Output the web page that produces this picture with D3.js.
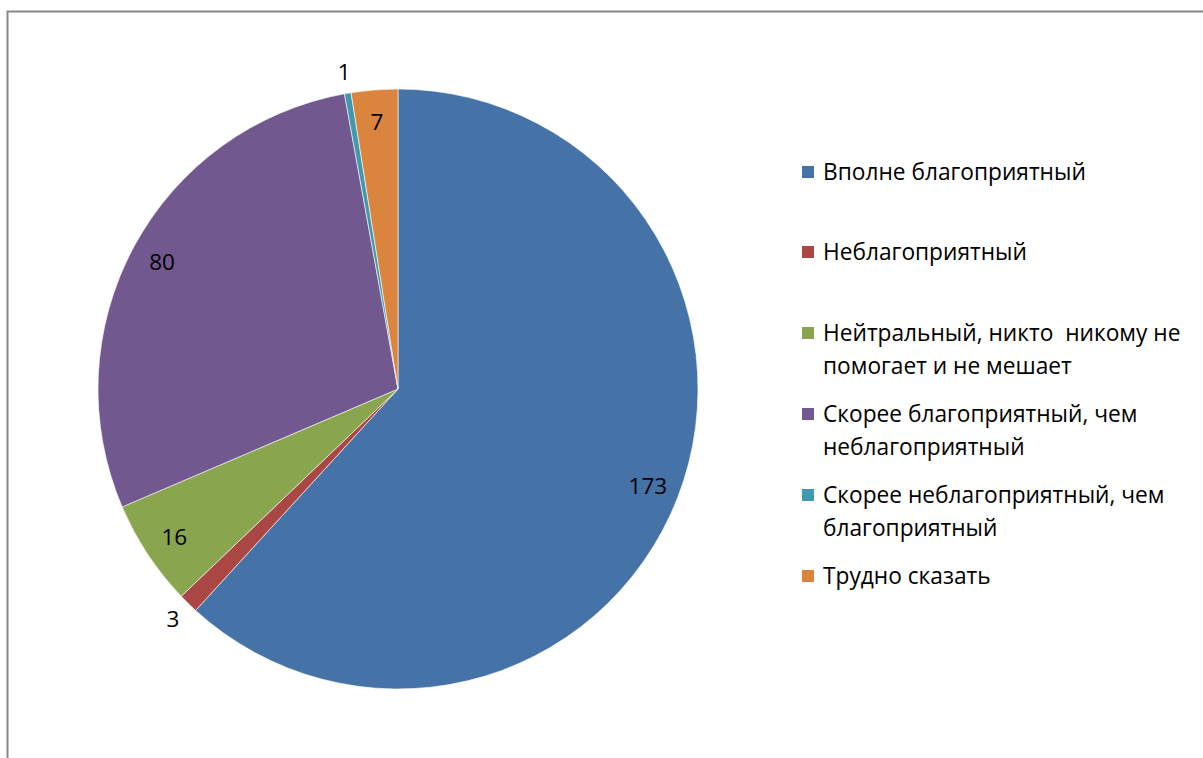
<!DOCTYPE html>
<html>
<head>
<meta charset="utf-8">
<script src="https://cdn.jsdelivr.net/npm/d3@7"></script>
<style>
  body { margin: 0; background: #fff; }
  svg { display: block; }
</style>
</head>
<body>
<div id="chart-container"></div>
<script>
const categories = [
  "Вполне благоприятный",
  "Неблагоприятный",
  "Нейтральный, никто  никому не помогает и не мешает",
  "Скорее благоприятный, чем неблагоприятный",
  "Скорее неблагоприятный, чем благоприятный",
  "Трудно сказать"
];
// legend text as wrapped in the picture
const legendLines = [
  ["Вполне благоприятный"],
  ["Неблагоприятный"],
  ["Нейтральный, никто\u00a0 никому не", "помогает и не мешает"],
  ["Скорее благоприятный, чем", "неблагоприятный"],
  ["Скорее неблагоприятный, чем", "благоприятный"],
  ["Трудно сказать"]
];
const values = [173, 3, 16, 80, 1, 7];
const colors = ["#4572A7", "#AA4643", "#89A54E", "#71588F", "#4198AF", "#DB843D"];

const width = 1203;
const height = 758;
const cx = 398, cy = 389, radius = 300;
const fontFamily = "'Open Sans', sans-serif";

const svg = d3
  .select("#chart-container")
  .append("svg")
  .attr("width", width)
  .attr("height", height);

// chart area frame (runs off the right and bottom edges)
svg.append("rect")
  .attr("x", 7.5)
  .attr("y", 11.5)
  .attr("width", 1300)
  .attr("height", 900)
  .attr("fill", "none")
  .attr("stroke", "#878787")
  .attr("stroke-width", 2);

const color = d3.scaleOrdinal().domain(categories).range(colors);

const pie = d3.pie().sort(null).value((d) => d.value);
const data = categories.map((c, i) => ({ name: c, value: values[i] }));
const arcs = pie(data);

const arc = d3.arc().innerRadius(0).outerRadius(radius);
const inLabel = d3.arc().innerRadius(268).outerRadius(268);
const outLabel = d3.arc().innerRadius(322).outerRadius(322);

const g = svg.append("g").attr("transform", `translate(${cx},${cy})`);

g.selectAll("path")
  .data(arcs)
  .enter()
  .append("path")
  .attr("d", arc)
  .attr("fill", (d) => color(d.data.name))
  .attr("stroke", "#ffffff")
  .attr("stroke-width", 0.6);

g.selectAll("text.val")
  .data(arcs)
  .enter()
  .append("text")
  .attr("class", "val")
  .attr("transform", (d) => {
    const p = (d.data.value < 5 ? outLabel : inLabel).centroid(d);
    return `translate(${p[0]},${p[1]})`;
  })
  .attr("text-anchor", "middle")
  .attr("dy", "0.36em")
  .attr("font-family", fontFamily)
  .attr("font-size", 22.5)
  .attr("fill", "#000")
  .text((d) => d.data.value);

// legend
const legendX = 802, legendText = 823;
const rowY = [172, 252, 333, 414, 495, 576];
const lineH = 32.5;

const legend = svg.selectAll("g.legend")
  .data(categories)
  .enter()
  .append("g")
  .attr("class", "legend")
  .attr("transform", (d, i) => `translate(0,${rowY[i]})`);

legend.append("rect")
  .attr("x", legendX)
  .attr("y", -6)
  .attr("width", 12)
  .attr("height", 12)
  .attr("fill", (d) => color(d));

legend.each(function (d, i) {
  const t = d3.select(this).append("text")
    .attr("class", "leg")
    .attr("x", legendText)
    .attr("y", 0)
    .attr("font-family", fontFamily)
    .attr("font-size", 20)
    .attr("fill", "#000");
  legendLines[i].forEach((line, j) => {
    t.append("tspan")
      .attr("x", legendText)
      .attr("y", j * lineH)
      .attr("dy", "0.36em")
      .text(line);
  });
});

// size the legend font so the first entry spans the same width as in the picture
const first = svg.select("text.leg").node().getComputedTextLength();
svg.selectAll("text.leg").attr("font-size", 20 * 263 / first);
</script>
</body>
</html>
